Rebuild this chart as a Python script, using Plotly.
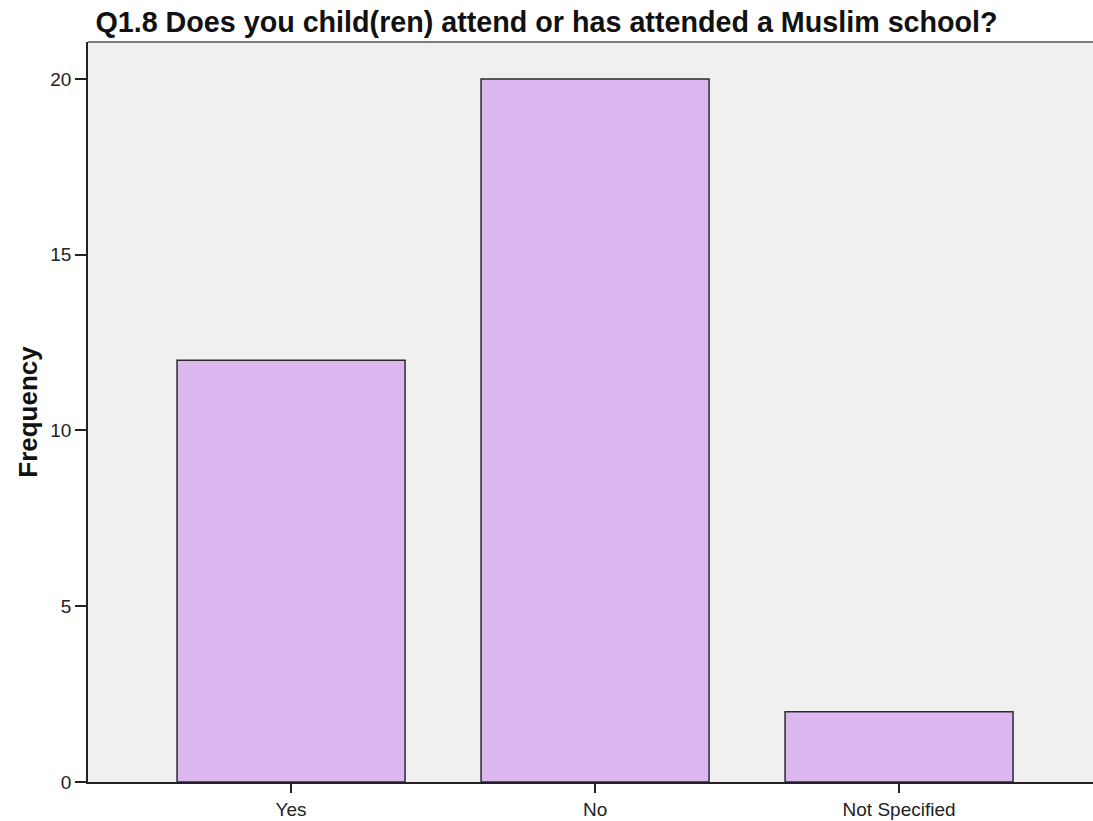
import plotly.graph_objects as go

# Survey response counts
categories = ["Yes", "No", "Not Specified"]
frequencies = [12, 20, 2]
y_ticks = [0, 5, 10, 15, 20]

FONT = "Liberation Sans, Arial, sans-serif"

fig = go.Figure(
    go.Bar(
        x=categories,
        y=frequencies,
        marker=dict(color="#DDB8F0", line=dict(color="#2a2a2a", width=1.5)),
        width=0.75,
    )
)

fig.update_layout(
    width=1093,
    height=821,
    margin=dict(l=88, r=0, t=42, b=39),
    paper_bgcolor="white",
    plot_bgcolor="#F0F0F0",
    showlegend=False,
    title=dict(
        text="<b>Q1.8 Does you child(ren) attend or has attended a Muslim school?</b>",
        x=0.5,
        xanchor="center",
        y=1 - 22 / 821,
        yanchor="middle",
        font=dict(family=FONT, size=28.7, color="#111111"),
    ),
    font=dict(family=FONT, color="#222222"),
    shapes=[
        dict(type="line", xref="paper", yref="paper", x0=0, x1=1, y0=1, y1=1,
             line=dict(color="#7a7a7a", width=2)),
    ],
)

fig.update_xaxes(
    type="category",
    range=[-0.668, 2.638],
    showgrid=False,
    showline=True,
    linecolor="#222222",
    linewidth=1.5,
    ticks="outside",
    ticklen=9,
    tickwidth=1.5,
    tickcolor="#222222",
    tickfont=dict(size=19, color="#222222"),
    zeroline=False,
)

fig.update_yaxes(
    range=[0, 21.05],
    tickvals=y_ticks,
    showgrid=False,
    showline=True,
    linecolor="#222222",
    linewidth=1.5,
    ticks="outside",
    ticklen=11,
    tickwidth=1.5,
    tickcolor="#222222",
    tickfont=dict(size=19, color="#222222"),
    zeroline=False,
    title=dict(text="<b>Frequency</b>", font=dict(size=26, color="#111111"), standoff=5),
)

fig.write_html("out.html")
